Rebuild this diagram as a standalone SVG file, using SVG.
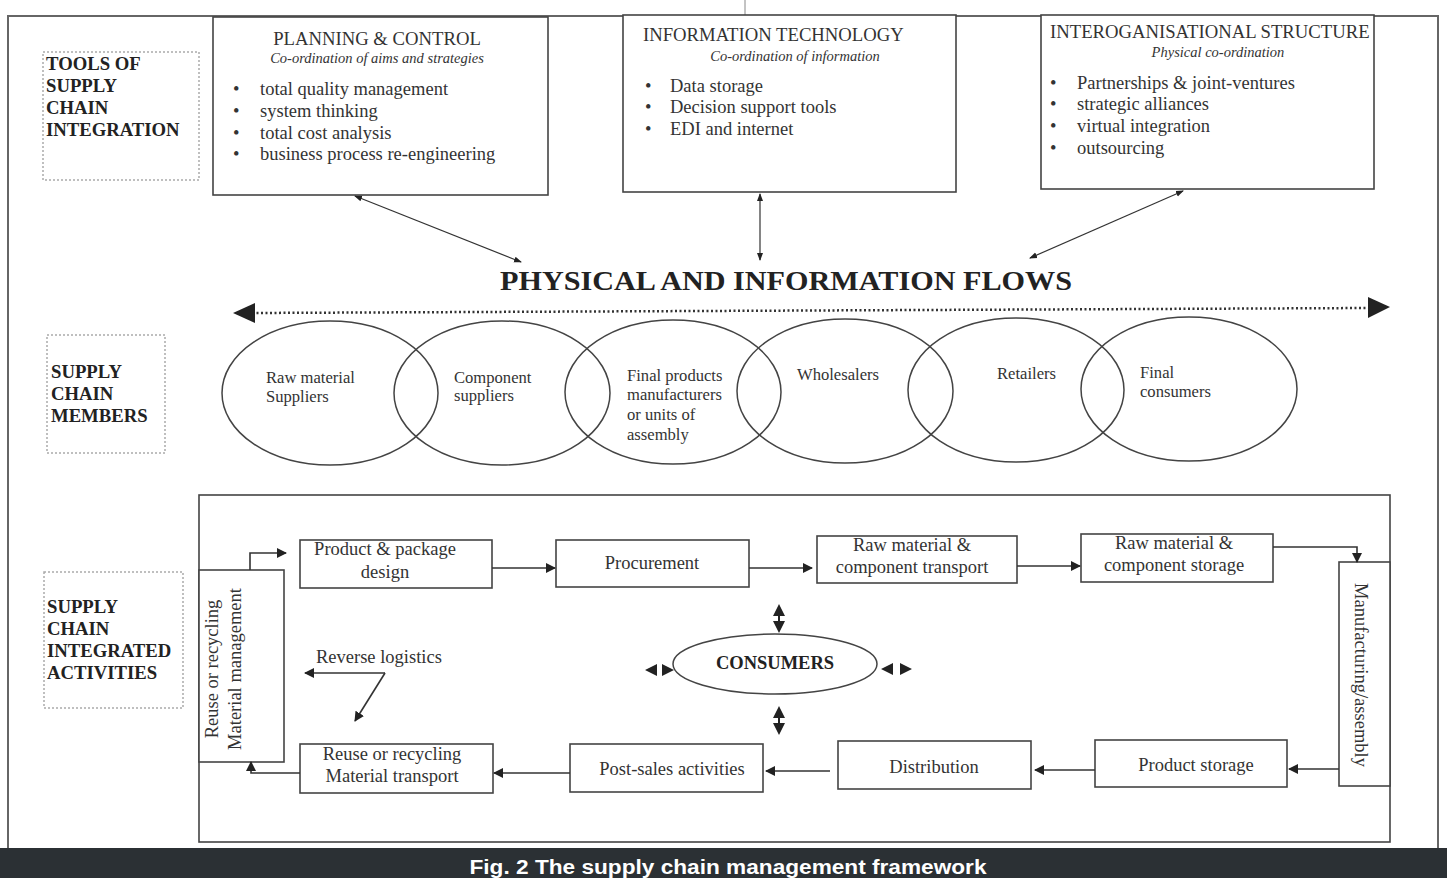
<svg xmlns="http://www.w3.org/2000/svg" width="1447" height="878" viewBox="0 0 1447 878">
<defs>
<style>
.t{font-family:"Liberation Serif","Times New Roman",serif;fill:#333}
.lbl{font-family:"Liberation Serif",serif;font-weight:bold;font-size:18.7px;fill:#222}
.box{fill:#fff;stroke:#444;stroke-width:1.6}
.dot{fill:none;stroke:#aaa;stroke-width:1.5;stroke-dasharray:2 2}
.ell{fill:none;stroke:#444;stroke-width:1.5}
.con{fill:none;stroke:#333;stroke-width:1.6}
.thin{fill:none;stroke:#333;stroke-width:1.2}
</style>
<marker id="ah" markerWidth="10" markerHeight="10" refX="9" refY="5" orient="auto" markerUnits="userSpaceOnUse">
<path d="M0,0 L10,5 L0,10 Z" fill="#222"/>
</marker>
<marker id="ahs" markerWidth="8" markerHeight="8" refX="7" refY="4" orient="auto-start-reverse" markerUnits="userSpaceOnUse">
<path d="M0,1 L8,4 L0,7 Z" fill="#222"/>
</marker>
</defs>
<rect width="1447" height="878" fill="#fff"/>
<!-- outer frame -->
<path d="M8,848 L8,16 L1438,16 L1438,848" fill="none" stroke="#666" stroke-width="2"/>
<line x1="745" y1="0" x2="745" y2="16" stroke="#888" stroke-width="1"/>

<!-- left labels -->
<g id="label-tools">
<rect class="dot" x="43" y="52" width="156" height="128"/>
<text class="lbl" x="46" y="70">TOOLS OF</text>
<text class="lbl" x="46" y="92">SUPPLY</text>
<text class="lbl" x="46" y="114">CHAIN</text>
<text class="lbl" x="46" y="136">INTEGRATION</text>
</g>
<g id="label-members">
<rect class="dot" x="47" y="335" width="118" height="118"/>
<text class="lbl" x="51" y="378">SUPPLY</text>
<text class="lbl" x="51" y="400">CHAIN</text>
<text class="lbl" x="51" y="422">MEMBERS</text>
</g>
<g id="label-activities">
<rect class="dot" x="44" y="572" width="139" height="136"/>
<text class="lbl" x="47" y="613">SUPPLY</text>
<text class="lbl" x="47" y="635">CHAIN</text>
<text class="lbl" x="47" y="657">INTEGRATED</text>
<text class="lbl" x="47" y="679">ACTIVITIES</text>
</g>

<!-- top tool boxes -->
<g id="planning">
<rect class="box" x="213" y="17" width="335" height="178"/>
<text class="t" x="377" y="45" font-size="18.7" text-anchor="middle">PLANNING &amp; CONTROL</text>
<text class="t" x="377" y="63" font-size="14.5" font-style="italic" text-anchor="middle">Co-ordination of aims and strategies</text>
<g font-size="18.5">
<text class="t" x="233" y="95">•</text><text class="t" x="260" y="95">total quality management</text>
<text class="t" x="233" y="117">•</text><text class="t" x="260" y="117">system thinking</text>
<text class="t" x="233" y="139">•</text><text class="t" x="260" y="139">total cost analysis</text>
<text class="t" x="233" y="160">•</text><text class="t" x="260" y="160">business process re-engineering</text>
</g>
</g>
<g id="it">
<rect class="box" x="623" y="15" width="333" height="177"/>
<text class="t" x="643" y="41" font-size="18.7">INFORMATION TECHNOLOGY</text>
<text class="t" x="795" y="61" font-size="14.5" font-style="italic" text-anchor="middle">Co-ordination of information</text>
<g font-size="18.5">
<text class="t" x="645" y="92">•</text><text class="t" x="670" y="92">Data storage</text>
<text class="t" x="645" y="113">•</text><text class="t" x="670" y="113">Decision support tools</text>
<text class="t" x="645" y="135">•</text><text class="t" x="670" y="135">EDI and internet</text>
</g>
</g>
<g id="interorg">
<rect class="box" x="1041" y="15" width="333" height="174"/>
<text class="t" x="1050" y="38" font-size="18.7">INTEROGANISATIONAL STRUCTURE</text>
<text class="t" x="1218" y="57" font-size="14.5" font-style="italic" text-anchor="middle">Physical co-ordination</text>
<g font-size="18.5">
<text class="t" x="1050" y="89">•</text><text class="t" x="1077" y="89">Partnerships &amp; joint-ventures</text>
<text class="t" x="1050" y="110">•</text><text class="t" x="1077" y="110">strategic alliances</text>
<text class="t" x="1050" y="132">•</text><text class="t" x="1077" y="132">virtual integration</text>
<text class="t" x="1050" y="154">•</text><text class="t" x="1077" y="154">outsourcing</text>
</g>
</g>

<g id="flows-title">
<text x="786" y="290" font-family="Liberation Serif,serif" font-weight="bold" font-size="27" fill="#222" text-anchor="middle" textLength="572" lengthAdjust="spacingAndGlyphs">PHYSICAL AND INFORMATION FLOWS</text>
</g>

<!-- supply chain members -->
<g id="members">
<ellipse class="ell" cx="330" cy="393" rx="108" ry="72"/>
<ellipse class="ell" cx="502" cy="393" rx="108" ry="72"/>
<ellipse class="ell" cx="673" cy="392" rx="108" ry="72"/>
<ellipse class="ell" cx="845" cy="391" rx="108" ry="72"/>
<ellipse class="ell" cx="1016" cy="390" rx="108" ry="72"/>
<ellipse class="ell" cx="1189" cy="389" rx="108" ry="72"/>
<g font-size="16.6">
<text class="t" x="266" y="383">Raw material</text>
<text class="t" x="266" y="402">Suppliers</text>
<text class="t" x="454" y="383">Component</text>
<text class="t" x="454" y="401">suppliers</text>
<text class="t" x="627" y="381">Final products</text>
<text class="t" x="627" y="400">manufacturers</text>
<text class="t" x="627" y="420">or units of</text>
<text class="t" x="627" y="440">assembly</text>
<text class="t" x="797" y="380">Wholesalers</text>
<text class="t" x="997" y="379">Retailers</text>
<text class="t" x="1140" y="378">Final</text>
<text class="t" x="1140" y="397">consumers</text>
</g>
</g>

<!-- activities frame -->
<rect id="activities-frame" x="199" y="495" width="1191" height="347" fill="none" stroke="#444" stroke-width="1.6"/>

<g id="reuse-mgmt">
<rect class="box" x="199" y="570" width="85" height="192"/>
<text class="t" font-size="18.5" text-anchor="middle" transform="translate(218,669) rotate(-90)">Reuse or recycling</text>
<text class="t" font-size="18.5" text-anchor="middle" transform="translate(241,669) rotate(-90)">Material management</text>
</g>
<g id="design">
<rect class="box" x="300" y="540" width="192" height="48"/>
<text class="t" x="385" y="555" font-size="18.5" text-anchor="middle">Product &amp; package</text>
<text class="t" x="385" y="578" font-size="18.5" text-anchor="middle">design</text>
</g>
<g id="procurement">
<rect class="box" x="556" y="540" width="193" height="47"/>
<text class="t" x="652" y="569" font-size="18.5" text-anchor="middle">Procurement</text>
</g>
<g id="rm-transport">
<rect class="box" x="817" y="536" width="200" height="47"/>
<text class="t" x="912" y="551" font-size="18.5" text-anchor="middle">Raw material &amp;</text>
<text class="t" x="912" y="573" font-size="18.5" text-anchor="middle">component transport</text>
</g>
<g id="rm-storage">
<rect class="box" x="1081" y="534" width="192" height="48"/>
<text class="t" x="1174" y="549" font-size="18.5" text-anchor="middle">Raw material &amp;</text>
<text class="t" x="1174" y="571" font-size="18.5" text-anchor="middle">component storage</text>
</g>
<g id="manufacturing">
<rect class="box" x="1339" y="562" width="51" height="224"/>
<text class="t" font-size="18.5" text-anchor="middle" transform="translate(1355,675) rotate(90)">Manufacturing/assembly</text>
</g>
<g id="product-storage">
<rect class="box" x="1095" y="740" width="192" height="47"/>
<text class="t" x="1196" y="771" font-size="18.5" text-anchor="middle">Product storage</text>
</g>
<g id="distribution">
<rect class="box" x="838" y="741" width="193" height="48"/>
<text class="t" x="934" y="773" font-size="18.5" text-anchor="middle">Distribution</text>
</g>
<g id="post-sales">
<rect class="box" x="570" y="744" width="193" height="48"/>
<text class="t" x="672" y="775" font-size="18.5" text-anchor="middle">Post-sales activities</text>
</g>
<g id="reuse-transport">
<rect class="box" x="300" y="744" width="193" height="49"/>
<text class="t" x="392" y="760" font-size="18.5" text-anchor="middle">Reuse or recycling</text>
<text class="t" x="392" y="782" font-size="18.5" text-anchor="middle">Material transport</text>
</g>
<g id="consumers">
<ellipse class="ell" cx="775" cy="664" rx="102" ry="30"/>
<text x="775" y="669" font-family="Liberation Serif,serif" font-weight="bold" font-size="18.5" fill="#222" text-anchor="middle">CONSUMERS</text>
</g>
<g id="reverse-label">
<text class="t" x="316" y="663" font-size="18.5">Reverse logistics</text>
</g>

<!-- connectors -->
<g id="connectors">
<line class="thin" x1="355" y1="196" x2="521" y2="262" marker-start="url(#ahs)" marker-end="url(#ahs)"/>
<line class="thin" x1="760" y1="194" x2="760" y2="260" marker-start="url(#ahs)" marker-end="url(#ahs)"/>
<line class="thin" x1="1183" y1="191" x2="1030" y2="258" marker-start="url(#ahs)" marker-end="url(#ahs)"/>
<line x1="252" y1="313" x2="1370" y2="308" stroke="#333" stroke-width="2.5" stroke-dasharray="2 2.5"/>
<path d="M233,313 L255,303 L255,323 Z" fill="#222"/>
<path d="M1390,307 L1368,297 L1368,318 Z" fill="#222"/>

<path class="con" d="M250,570 L250,553 L286,553" marker-end="url(#ah)"/>
<line class="con" x1="492" y1="568" x2="555" y2="568" marker-end="url(#ah)"/>
<line class="con" x1="749" y1="568" x2="812" y2="568" marker-end="url(#ah)"/>
<line class="con" x1="1017" y1="566" x2="1080" y2="566" marker-end="url(#ah)"/>
<path class="con" d="M1273,547 L1357,547 L1357,562" marker-end="url(#ah)"/>
<line class="con" x1="1339" y1="769" x2="1289" y2="769" marker-end="url(#ah)"/>
<line class="con" x1="1095" y1="770" x2="1035" y2="770" marker-end="url(#ah)"/>
<line class="con" x1="830" y1="771" x2="766" y2="771" marker-end="url(#ah)"/>
<line class="con" x1="570" y1="773" x2="494" y2="773" marker-end="url(#ah)"/>
<path class="con" d="M300,773 L251,773 L251,762" marker-end="url(#ah)"/>
<path class="con" d="M385,673 L305,673" marker-end="url(#ah)"/>
<path class="con" d="M385,673 L355,721" marker-end="url(#ah)"/>

<!-- consumer double arrows -->
<path d="M779,604 L773,616 L785,616 Z M779,633 L773,621 L785,621 Z" fill="#222"/>
<line x1="779" y1="614" x2="779" y2="623" stroke="#222" stroke-width="2"/>
<path d="M779,706 L773,718 L785,718 Z M779,735 L773,723 L785,723 Z" fill="#222"/>
<line x1="779" y1="716" x2="779" y2="725" stroke="#222" stroke-width="2"/>
<path d="M645,670 L657,664 L657,676 Z M674,670 L662,664 L662,676 Z" fill="#222"/>
<path d="M881,669 L893,663 L893,675 Z M912,669 L900,663 L900,675 Z" fill="#222"/>
</g>

<!-- caption -->
<g id="caption">
<rect x="0" y="848" width="1447" height="30" fill="#2b3034"/>
<text x="728" y="874" font-family="Liberation Sans,Arial,sans-serif" font-weight="bold" font-size="20" fill="#fff" text-anchor="middle" textLength="517" lengthAdjust="spacingAndGlyphs">Fig. 2 The supply chain management framework</text>
</g>
</svg>
